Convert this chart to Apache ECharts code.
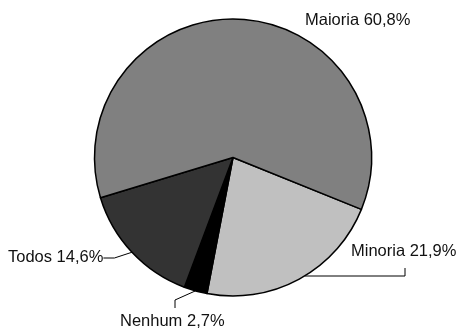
<!DOCTYPE html>
<html>
<head>
<meta charset="utf-8">
<style>
  html, body { margin: 0; padding: 0; background: #fff; }
  #chart { width: 464px; height: 331px; }
</style>
<script src="https://cdn.jsdelivr.net/npm/echarts@6/dist/echarts.min.js"></script>
</head>
<body>
<div id="chart"></div>
<script>
// Slice order runs clockwise from the Maioria/Minoria boundary
const categories = ['Minoria', 'Nenhum', 'Todos', 'Maioria'];
const shares = [21.9, 2.7, 14.6, 60.8];
const labelTexts = ['Minoria 21,9%', 'Nenhum 2,7%', 'Todos 14,6%', 'Maioria 60,8%'];
const sliceColors = ['#c0c0c0', '#000000', '#333333', '#808080'];

const PIE_CENTER = [233, 157.5];
const PIE_RADIUS = 138.5;

// Label anchors (left edge, vertical middle)
const labelPlacement = {
  'Minoria': { x: 351, y: 251 },
  'Nenhum':  { x: 120, y: 321 },
  'Todos':   { x: 8,   y: 257 },
  'Maioria': { x: 305, y: 20 }
};

const chart = echarts.init(document.getElementById('chart'), null, { renderer: 'canvas' });

const data = categories.map((name, i) => ({
  name: name,
  value: shares[i],
  itemStyle: { color: sliceColors[i] },
  label: { formatter: labelTexts[i] },
  labelLine: { show: name !== 'Maioria' }
}));

// point on the pie rim at a given height, right-hand side
function rimPointAtY(y) {
  const dy = y - PIE_CENTER[1];
  return [PIE_CENTER[0] + Math.sqrt(PIE_RADIUS * PIE_RADIUS - dy * dy), y];
}

function leaderLine(name, edge, rect) {
  if (!edge) return undefined;
  const right = rect.x + rect.width;
  const midY = rect.y + rect.height / 2;
  if (name === 'Todos') {
    return [edge, [right + 11, midY + 1], [right, midY + 1]];
  }
  if (name === 'Minoria') {
    const baseY = midY + 25;
    const tickX = rect.x + 54;
    return [rimPointAtY(baseY), [tickX, baseY], [tickX, midY + 17]];
  }
  if (name === 'Nenhum') {
    const tickX = rect.x + 55;
    return [edge, [tickX, midY - 21], [tickX, midY - 13]];
  }
  return undefined;
}

chart.setOption({
  backgroundColor: '#ffffff',
  animation: false,
  series: [{
    type: 'pie',
    center: PIE_CENTER,
    radius: [0, PIE_RADIUS],
    startAngle: -22,
    clockwise: true,
    avoidLabelOverlap: false,
    data: data,
    itemStyle: { borderColor: '#000000', borderWidth: 1.5 },
    emphasis: { disabled: true },
    label: {
      show: true,
      position: 'outside',
      color: '#111111',
      fontFamily: 'Liberation Sans, Arial, sans-serif',
      fontSize: 16.5
    },
    labelLine: {
      show: true,
      length: 10,
      length2: 10,
      lineStyle: { color: '#000000', width: 1 }
    },
    labelLayout: function (params) {
      const name = categories[params.dataIndex];
      const p = labelPlacement[name];
      const w = params.labelRect.width;
      const h = params.labelRect.height;
      const rect = { x: p.x, y: p.y - h / 2, width: w, height: h };
      const edge = params.labelLinePoints && params.labelLinePoints[0];
      const out = { x: p.x, y: p.y, align: 'left', verticalAlign: 'middle' };
      const pts = leaderLine(name, edge, rect);
      if (pts) out.labelLinePoints = pts;
      return out;
    }
  }]
});
</script>
</body>
</html>
